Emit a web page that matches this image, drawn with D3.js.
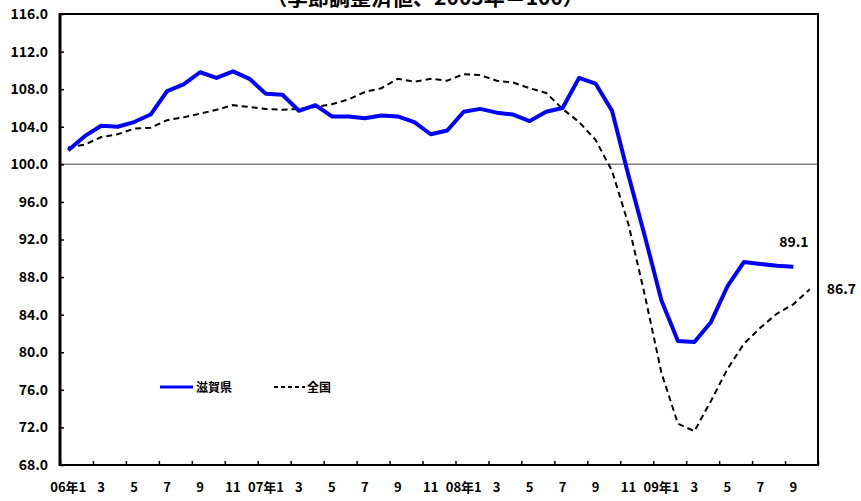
<!DOCTYPE html>
<html>
<head>
<meta charset="utf-8">
<script src="https://cdn.jsdelivr.net/npm/d3@7"></script>
<style>
  body { margin: 0; background: #fff; }
  svg { display: block; }
  text { font-family: "Noto Sans CJK JP", sans-serif; font-weight: bold; fill: #000; }
</style>
</head>
<body>
<svg id="chart" width="861" height="501"></svg>
<script>
// months Jan 2006 .. Oct 2009
var categories = [
  "06年1月","06年2月","06年3月","06年4月","06年5月","06年6月","06年7月","06年8月","06年9月","06年10月","06年11月","06年12月",
  "07年1月","07年2月","07年3月","07年4月","07年5月","07年6月","07年7月","07年8月","07年9月","07年10月","07年11月","07年12月",
  "08年1月","08年2月","08年3月","08年4月","08年5月","08年6月","08年7月","08年8月","08年9月","08年10月","08年11月","08年12月",
  "09年1月","09年2月","09年3月","09年4月","09年5月","09年6月","09年7月","09年8月","09年9月","09年10月"
];

var shiga = [
  101.5, 103.0, 104.1, 104.0, 104.5, 105.3, 107.8, 108.5, 109.8, 109.2, 109.9, 109.1,
  107.5, 107.4, 105.7, 106.3, 105.1, 105.1, 104.9, 105.2, 105.1, 104.5, 103.2, 103.6,
  105.6, 105.9, 105.5, 105.3, 104.6, 105.6, 106.0, 109.2, 108.6, 105.7, 98.8, 92.3,
  85.5, 81.2, 81.1, 83.2, 87.0, 89.6, 89.4, 89.2, 89.1
];

var zenkoku = [
  101.8, 102.1, 102.9, 103.2, 103.8, 103.9, 104.7, 105.0, 105.4, 105.8, 106.3, 106.1,
  105.9, 105.8, 105.9, 106.1, 106.4, 106.9, 107.7, 108.1, 109.1, 108.8, 109.1, 108.9,
  109.6, 109.5, 108.9, 108.7, 108.1, 107.6, 105.9, 104.5, 102.6, 99.3, 93.6, 86.0,
  77.8, 72.4, 71.6, 74.8, 78.2, 80.9, 82.6, 84.1, 85.1, 86.7
];

// labels on every other month, starting at index 0
var tickLabels = [
  "06年1","3","5","7","9","11",
  "07年1","3","5","7","9","11",
  "08年1","3","5","7","9","11",
  "09年1","3","5","7","9"
];

var yTicks = [68, 72, 76, 80, 84, 88, 92, 96, 100, 104, 108, 112, 116];

var svg = d3.select("#chart");
var plotL = 60, plotR = 818, plotT = 14, plotB = 465;

var x = d3.scaleBand()
  .domain(d3.range(categories.length))
  .range([plotL, plotR])
  .padding(0);

var xEdge = d3.scaleLinear()
  .domain([0, categories.length])
  .range([plotL, plotR]);

var y = d3.scaleLinear()
  .domain([68, 116])
  .range([plotB, plotT]);

function cx(i) { return x(i) + x.bandwidth() / 2; }

// title, cut off at the top edge
svg.append("text")
  .attr("x", 425)
  .attr("y", 5)
  .attr("text-anchor", "middle")
  .style("font-size", "21px")
  .text("（季節調整済値、2005年＝100）");

// reference line at 100
svg.append("line")
  .attr("x1", plotL).attr("x2", plotR)
  .attr("y1", y(100)).attr("y2", y(100))
  .attr("stroke", "#808080")
  .attr("stroke-width", 1.5);

// y axis
var yAxis = svg.append("g")
  .attr("transform", "translate(" + plotL + ",0)")
  .call(d3.axisLeft(y).tickValues(yTicks).tickFormat(d3.format(".1f")).tickSize(-4).tickPadding(12));
yAxis.select(".domain").remove();
yAxis.selectAll(".tick line").attr("stroke", "#000").attr("stroke-width", 1.5);
yAxis.selectAll("text").style("font-size", "14px").style("font-family", null);

// x axis tick marks at month boundaries
var xTicks = svg.append("g")
  .attr("transform", "translate(0," + plotB + ")")
  .call(d3.axisBottom(xEdge).tickValues(d3.range(0, categories.length + 1, 2)).tickSize(-4).tickFormat(""));
xTicks.select(".domain").remove();
xTicks.selectAll(".tick line").attr("stroke", "#000").attr("stroke-width", 1.5);

// x labels at month centres
var xLabels = svg.append("g")
  .attr("transform", "translate(0," + plotB + ")")
  .call(d3.axisBottom(x)
    .tickValues(d3.range(0, categories.length, 2))
    .tickFormat(function(d) { return tickLabels[d / 2]; })
    .tickSize(0).tickPadding(18));
xLabels.select(".domain").remove();
xLabels.selectAll("text").style("font-size", "13px").style("font-family", null);

// plot border
svg.append("rect")
  .attr("x", plotL).attr("y", plotT)
  .attr("width", plotR - plotL).attr("height", plotB - plotT)
  .attr("fill", "none")
  .attr("stroke", "#000")
  .attr("stroke-width", 2);

svg.append("line")
  .attr("x1", plotL).attr("x2", plotL)
  .attr("y1", plotT - 1).attr("y2", plotB + 1)
  .attr("stroke", "#000")
  .attr("stroke-width", 3);

var line = d3.line()
  .x(function(d, i) { return cx(i); })
  .y(function(d) { return y(d); });

svg.append("path")
  .datum(zenkoku)
  .attr("d", line)
  .attr("fill", "none")
  .attr("stroke", "#000")
  .attr("stroke-width", 2)
  .attr("stroke-dasharray", "6,4");

svg.append("path")
  .datum(shiga)
  .attr("d", line)
  .attr("fill", "none")
  .attr("stroke", "#0000ff")
  .attr("stroke-width", 4)
  .attr("stroke-linejoin", "round");

// end-value labels
svg.append("text")
  .attr("x", cx(shiga.length - 1) - 14)
  .attr("y", y(shiga[shiga.length - 1]) - 20)
  .style("font-size", "14px")
  .text(shiga[shiga.length - 1].toFixed(1));

svg.append("text")
  .attr("x", cx(zenkoku.length - 1) + 17)
  .attr("y", y(zenkoku[zenkoku.length - 1]) + 5)
  .style("font-size", "14px")
  .text(zenkoku[zenkoku.length - 1].toFixed(1));

// legend
var legend = svg.append("g");
legend.append("line")
  .attr("x1", 160).attr("x2", 193).attr("y1", 387).attr("y2", 387)
  .attr("stroke", "#0000ff").attr("stroke-width", 3);
legend.append("text")
  .attr("x", 196).attr("y", 392)
  .style("font-size", "12px")
  .text("滋賀県");
legend.append("line")
  .attr("x1", 274).attr("x2", 305).attr("y1", 387).attr("y2", 387)
  .attr("stroke", "#000").attr("stroke-width", 2)
  .attr("stroke-dasharray", "4,3");
legend.append("text")
  .attr("x", 307).attr("y", 392)
  .style("font-size", "12px")
  .text("全国");
</script>
</body>
</html>
